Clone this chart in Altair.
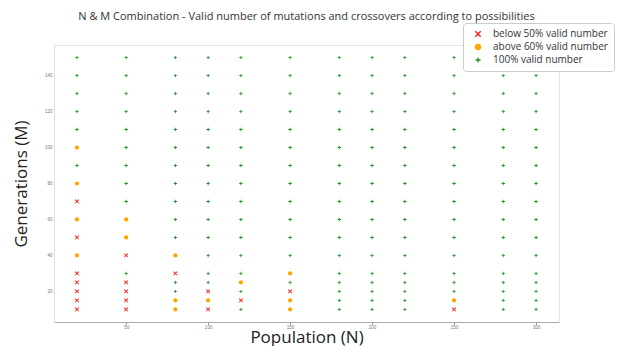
import altair as alt
import pandas as pd

# Population values (columns) and generation values (rows)
population = [20, 50, 80, 100, 120, 150, 180, 200, 220, 250, 280, 300]
generations = [150, 140, 130, 120, 110, 100, 90, 80, 70, 60, 50, 40, 30, 25, 20, 15, 10]

# status per row (one char per population column): r = below 50%, o = above 60%, g = 100%
status_rows = [
    "gggggggggggg",  # 150
    "gggggggggggg",  # 140
    "gggggggggggg",  # 130
    "gggggggggggg",  # 120
    "gggggggggggg",  # 110
    "oggggggggggg",  # 100
    "gggggggggggg",  # 90
    "oggggggggggg",  # 80
    "rggggggggggg",  # 70
    "oogggggggggg",  # 60
    "rogggggggggg",  # 50
    "oroggggggggg",  # 40
    "rgrggogggggg",  # 30
    "rrggoggggggg",  # 25
    "rrgrgrgggggg",  # 20
    "rroorogggogg",  # 15
    "rrorgogggrgg",  # 10
]

labels = {
    "r": "below 50% valid number",
    "o": "above 60% valid number",
    "g": "100% valid number",
}
order = ["below 50% valid number", "above 60% valid number", "100% valid number"]
colors = ["#ff1a1a", "#ffa500", "#1f8f1f"]

x_path = "M-1,-0.7L-0.7,-1L0,-0.3L0.7,-1L1,-0.7L0.3,0L1,0.7L0.7,1L0,0.3L-0.7,1L-1,0.7L-0.3,0Z"
plus_path = ("M-0.8,-0.2L-0.2,-0.2L-0.2,-0.8L0.2,-0.8L0.2,-0.2L0.8,-0.2L0.8,0.2L0.2,0.2"
             "L0.2,0.8L-0.2,0.8L-0.2,0.2L-0.8,0.2Z")
shapes = [x_path, "circle", plus_path]

records = []
for m, row in zip(generations, status_rows):
    for n, s in zip(population, row):
        records.append({"N": n, "M": m, "status": labels[s]})
df = pd.DataFrame(records)

FONT = "Open Sans"

chart = alt.Chart(df).mark_point(filled=True, size=18, opacity=1).encode(
    x=alt.X("N:Q", title="Population (N)",
            scale=alt.Scale(domain=[6, 314], nice=False, zero=False),
            axis=alt.Axis(values=[50, 100, 150, 200, 250, 300], grid=False,
                          labelFontSize=4.5, labelColor="#777", tickSize=2,
                          tickColor="#777", labelPadding=0, domainColor="#aaaaaa",
                          titleFontSize=17, titleFontWeight="normal", titleColor="#222",
                          titleY=20, titleBaseline="alphabetic", titleFont=FONT)),
    y=alt.Y("M:Q", title="Generations (M)",
            scale=alt.Scale(domain=[3, 157], nice=False, zero=False),
            axis=alt.Axis(values=[20, 40, 60, 80, 100, 120, 140], grid=False,
                          labelFontSize=4.5, labelColor="#777", tickSize=0,
                          labelPadding=2, domainColor="#dddddd",
                          titleFontSize=17, titleFontWeight="normal", titleColor="#222",
                          titlePadding=14, titleFont=FONT)),
    color=alt.Color("status:N", scale=alt.Scale(domain=order, range=colors),
                    legend=alt.Legend(title=None, orient="none", legendX=409, legendY=-22,
                                      symbolSize=40, labelFontSize=10, labelFont=FONT,
                                      labelColor="#333", padding=6, rowPadding=3,
                                      strokeColor="#cccccc", fillColor="white",
                                      cornerRadius=3, symbolOffset=4, labelOffset=10)),
    shape=alt.Shape("status:N", scale=alt.Scale(domain=order, range=shapes), legend=None),
).properties(
    width=505,
    height=277,
    padding={"left": 46, "top": 37, "right": 59, "bottom": 24},
    autosize=alt.AutoSizeParams(type="none"),
    title=alt.TitleParams("N & M Combination - Valid number of mutations and crossovers according to possibilities",
                          fontSize=11, font=FONT, fontWeight="normal", color="#333",
                          anchor="middle", frame="group", offset=1),
).configure_view(stroke="#e4e4e4")

chart.save("out.html", embed_options={"renderer": "svg", "actions": False})
